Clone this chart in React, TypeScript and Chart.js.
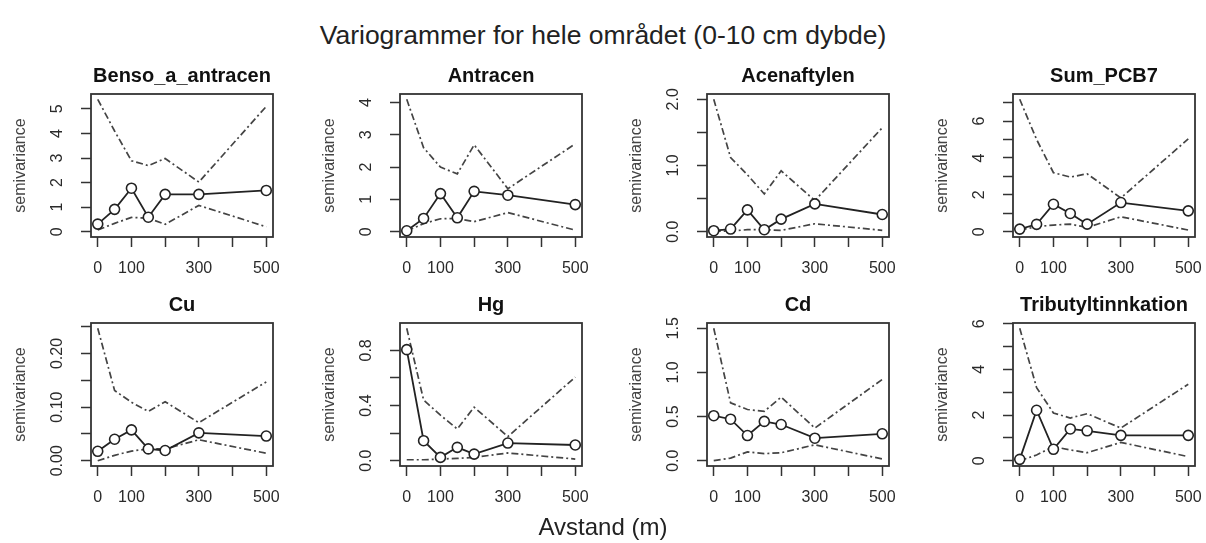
import React, { useEffect, useRef } from "react";
import { Chart, registerables } from "chart.js";

Chart.register(...registerables);

const FONT = "'Liberation Sans', Arial, Helvetica, sans-serif";
Chart.defaults.font.family = FONT;

// ---- data ----
const lags = [0, 50, 100, 150, 200, 300, 500];
const xTickValues = [0, 100, 200, 300, 400, 500];
const xTickLabels = ["0", "100", "", "300", "", "500"];

const panelTitles = [
  "Benso_a_antracen",
  "Antracen",
  "Acenaftylen",
  "Sum_PCB7",
  "Cu",
  "Hg",
  "Cd",
  "Tributyltinnkation",
];

const bensoGamma = [0.31, 0.91, 1.77, 0.59, 1.52, 1.52, 1.68];
const bensoUpper = [5.39, 4.1, 2.89, 2.69, 2.98, 2.02, 5.1];
const bensoLower = [0.07, 0.34, 0.58, 0.55, 0.3, 1.07, 0.2];

const antracenGamma = [0.03, 0.41, 1.18, 0.43, 1.25, 1.13, 0.84];
const antracenUpper = [4.1, 2.6, 2.0, 1.79, 2.69, 1.33, 2.72];
const antracenLower = [0.02, 0.25, 0.4, 0.41, 0.31, 0.59, 0.05];

const acenaftylenGamma = [0.015, 0.04, 0.33, 0.03, 0.19, 0.42, 0.26];
const acenaftylenUpper = [2.0, 1.12, 0.86, 0.57, 0.92, 0.47, 1.57];
const acenaftylenLower = [0.01, 0.01, 0.03, 0.03, 0.02, 0.12, 0.02];

const pcbGamma = [0.14, 0.4, 1.49, 0.99, 0.41, 1.58, 1.13];
const pcbUpper = [7.18, 5.0, 3.2, 2.96, 3.14, 1.83, 5.03];
const pcbLower = [0.09, 0.27, 0.36, 0.41, 0.23, 0.81, 0.09];

const cuGamma = [0.0175, 0.04, 0.0575, 0.022, 0.019, 0.052, 0.046];
const cuUpper = [0.247, 0.131, 0.109, 0.092, 0.11, 0.071, 0.147];
const cuLower = [0.0, 0.01, 0.018, 0.022, 0.022, 0.039, 0.014];

const hgGamma = [0.805, 0.145, 0.024, 0.097, 0.048, 0.128, 0.114];
const hgUpper = [0.96, 0.44, 0.33, 0.23, 0.388, 0.175, 0.606];
const hgLower = [0.007, 0.007, 0.012, 0.017, 0.024, 0.056, 0.012];

const cdGamma = [0.51, 0.47, 0.285, 0.445, 0.41, 0.255, 0.305];
const cdUpper = [1.5, 0.655, 0.58, 0.56, 0.72, 0.37, 0.92];
const cdLower = [0.0, 0.03, 0.1, 0.08, 0.09, 0.18, 0.02];

const tbtGamma = [0.06, 2.21, 0.5, 1.39, 1.31, 1.11, 1.11];
const tbtUpper = [5.8, 3.2, 2.09, 1.87, 2.06, 1.43, 3.35];
const tbtLower = [0.0, 0.25, 0.62, 0.47, 0.35, 0.8, 0.18];

const gammaSeries = [bensoGamma, antracenGamma, acenaftylenGamma, pcbGamma, cuGamma, hgGamma, cdGamma, tbtGamma];
const upperSeries = [bensoUpper, antracenUpper, acenaftylenUpper, pcbUpper, cuUpper, hgUpper, cdUpper, tbtUpper];
const lowerSeries = [bensoLower, antracenLower, acenaftylenLower, pcbLower, cuLower, hgLower, cdLower, tbtLower];

const yTickValues = [
  [0, 1, 2, 3, 4, 5],
  [0, 1, 2, 3, 4],
  [0, 0.5, 1, 1.5, 2],
  [0, 1, 2, 3, 4, 5, 6, 7],
  [0, 0.05, 0.1, 0.15, 0.2, 0.25],
  [0, 0.2, 0.4, 0.6, 0.8],
  [0, 0.5, 1, 1.5],
  [0, 1, 2, 3, 4, 5, 6],
];
const yTickLabels = [
  ["0", "1", "2", "3", "4", "5"],
  ["0", "1", "2", "3", "4"],
  ["0.0", "", "1.0", "", "2.0"],
  ["0", "", "2", "", "4", "", "6", ""],
  ["0.00", "", "0.10", "", "0.20", ""],
  ["0.0", "", "0.4", "", "0.8"],
  ["0.0", "0.5", "1.0", "1.5"],
  ["0", "", "2", "", "4", "", "6"],
];

const mainTitle = "Variogrammer for hele området (0-10 cm dybde)";
const xAxisTitle = "Avstand (m)";
const yAxisTitle = "semivariance";

// ---- layout ----
const boxLefts = [91, 400, 707, 1013];
const boxTops = [94, 323];
const BOX_X = 91;
const BOX_Y = 94;
const BOX_W = 182;
const BOX_H = 143;
const CW = 293;
const CH = 288;
const TICK_LEN = 10;
const TICK_FONT = 16;

const boxPlugin = {
  id: "rbox",
  afterDatasetsDraw(chart: any) {
    const { ctx, chartArea } = chart;
    const { left, top, right, bottom } = chartArea;
    ctx.save();
    ctx.strokeStyle = "#333";
    ctx.lineWidth = 1.8;
    ctx.strokeRect(left, top, right - left, bottom - top);
    ctx.restore();
  },
};

function widestLabel(labels: string[]): number {
  const c = document.createElement("canvas").getContext("2d")!;
  c.font = `normal ${TICK_FONT}px ${FONT}`;
  return Math.max(...labels.map((l) => c.measureText(l).width));
}

function Panel({ idx }: { idx: number }) {
  const ref = useRef<HTMLCanvasElement>(null);
  useEffect(() => {
    const gamma = gammaSeries[idx];
    const upper = upperSeries[idx];
    const lower = lowerSeries[idx];
    const yMax = Math.max(...gamma, ...upper, ...lower);
    const yt = yTickValues[idx];
    const yl = yTickLabels[idx];
    const yPad = 33 - TICK_LEN - widestLabel(yl) / 2;

    const envStyle = {
      borderColor: "#444",
      borderWidth: 1.7,
      borderDash: [7, 3, 2, 3],
      pointRadius: 0,
      fill: false,
      tension: 0,
    };

    const chart = new Chart(ref.current!, {
      type: "line",
      data: {
        datasets: [
          {
            label: "semivariance",
            data: lags.map((x, i) => ({ x, y: gamma[i] })),
            borderColor: "#222",
            borderWidth: 1.8,
            pointRadius: 5,
            pointBorderWidth: 1.6,
            pointBackgroundColor: "#fff",
            pointBorderColor: "#222",
            fill: false,
            tension: 0,
          },
          { label: "upper", data: lags.map((x, i) => ({ x, y: upper[i] })), ...envStyle },
          { label: "lower", data: lags.map((x, i) => ({ x, y: lower[i] })), ...envStyle },
        ],
      },
      options: {
        animation: false,
        responsive: false,
        events: [],
        layout: { padding: { left: 0, right: CW - BOX_X - BOX_W, top: 0, bottom: 0 } },
        plugins: {
          legend: { display: false },
          tooltip: { enabled: false },
          title: {
            display: true,
            text: panelTitles[idx],
            fullSize: false,
            color: "#111",
            font: { size: 20, weight: "bold", lineHeight: 1.2 },
            padding: { top: 64, bottom: 6 },
          },
        },
        scales: {
          x: {
            type: "linear",
            min: -20,
            max: 520,
            afterBuildTicks: (s: any) => {
              s.ticks = xTickValues.map((v) => ({ value: v }));
            },
            afterFit: (s: any) => {
              s.height = CH - BOX_Y - BOX_H;
              s.paddingLeft = 0;
              s.paddingRight = 0;
              s.paddingTop = 0;
              s.paddingBottom = 0;
            },
            grid: {
              display: true,
              drawOnChartArea: false,
              drawTicks: true,
              tickLength: TICK_LEN,
              tickColor: "#333",
              tickWidth: 1.5,
            },
            border: { display: false },
            ticks: {
              autoSkip: false,
              maxRotation: 0,
              minRotation: 0,
              padding: 12,
              color: "#2a2a2a",
              font: { size: TICK_FONT },
              callback: (_v: any, i: number) => xTickLabels[i],
            },
          },
          y: {
            type: "linear",
            min: -0.04 * yMax,
            max: 1.04 * yMax,
            afterBuildTicks: (s: any) => {
              s.ticks = yt.map((v) => ({ value: v }));
            },
            afterFit: (s: any) => {
              s.width = BOX_X;
              s.paddingLeft = 0;
              s.paddingRight = 0;
              s.paddingTop = 0;
              s.paddingBottom = 0;
            },
            grid: {
              display: true,
              drawOnChartArea: false,
              drawTicks: true,
              tickLength: TICK_LEN,
              tickColor: "#333",
              tickWidth: 1.5,
            },
            border: { display: false },
            title: {
              display: true,
              text: yAxisTitle,
              color: "#444",
              font: { size: 16, lineHeight: 1.2 },
              padding: { top: 11, bottom: 0 },
            },
            ticks: {
              autoSkip: false,
              minRotation: 90,
              maxRotation: 90,
              crossAlign: "center",
              padding: yPad,
              color: "#2a2a2a",
              font: { size: TICK_FONT },
              callback: (_v: any, i: number) => yl[i],
            },
          },
        },
      },
      plugins: [boxPlugin],
    } as any);
    return () => chart.destroy();
  }, [idx]);

  const col = idx % 4;
  const row = Math.floor(idx / 4);
  return (
    <canvas
      ref={ref}
      width={CW}
      height={CH}
      style={{
        position: "absolute",
        left: boxLefts[col] - BOX_X,
        top: boxTops[row] - BOX_Y,
        width: CW,
        height: CH,
      }}
    />
  );
}

export default function App() {
  return (
    <div
      style={{
        position: "absolute",
        left: 0,
        top: 0,
        width: 1206,
        height: 543,
        overflow: "hidden",
        background: "#fff",
        fontFamily: FONT,
      }}
    >
      <div
        style={{
          position: "absolute",
          left: 0,
          top: 20,
          width: 1206,
          textAlign: "center",
          fontSize: 26.5,
          lineHeight: "30px",
          color: "#222",
        }}
      >
        {mainTitle}
      </div>
      {panelTitles.map((_, i) => (
        <Panel key={i} idx={i} />
      ))}
      <div
        style={{
          position: "absolute",
          left: 0,
          top: 513,
          width: 1206,
          textAlign: "center",
          fontSize: 24,
          lineHeight: "28px",
          color: "#222",
        }}
      >
        {xAxisTitle}
      </div>
    </div>
  );
}
